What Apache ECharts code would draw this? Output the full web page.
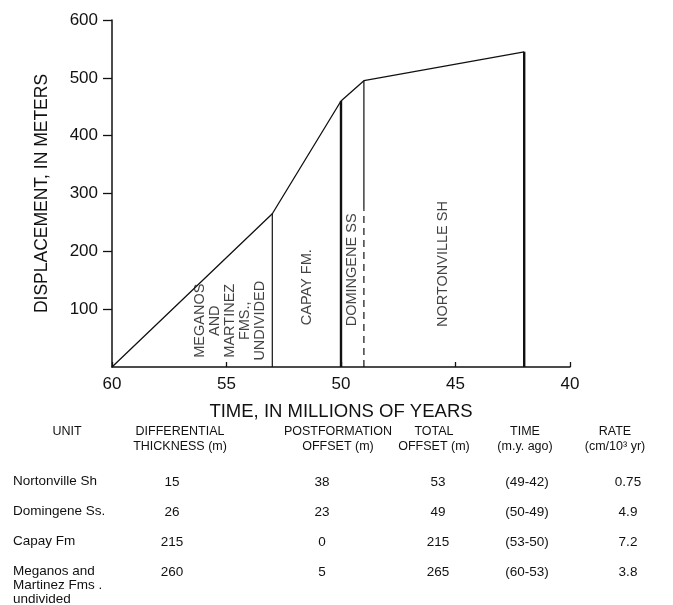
<!DOCTYPE html>
<html>
<head>
<meta charset="utf-8">
<script src="https://cdn.jsdelivr.net/npm/echarts@6/dist/echarts.min.js"></script>
<style>
    html, body { margin: 0; padding: 0; background: #fff; }
    #chart { width: 673px; height: 605px; }
</style>
</head>
<body>
<div id="chart"></div>
<script>
// breakpoints of the displacement curve: age (m.y.) and displacement (m)
const ages = [60, 53, 50, 49, 42];
const displacement = [0, 265, 460, 495, 545];
// the Domingene boundary is drawn solid only down to this height, dashed below
const domingeneSolidTo = 272;

const unitLabels = ['MEGANOS\nAND\nMARTINEZ\nFMS.,\nUNDIVIDED', 'CAPAY FM.', 'DOMINGENE SS', 'NORTONVILLE SH'];
const unitLabelAt = [[54.85, 80], [51.5, 138], [49.5, 168], [45.55, 178]];

const xTicks = [60, 55, 50, 45, 40];
const yTicks = [0, 100, 200, 300, 400, 500, 600];

const tableHeaders = ['UNIT', 'DIFFERENTIAL\nTHICKNESS (m)', 'POSTFORMATION\nOFFSET (m)', 'TOTAL\nOFFSET (m)', 'TIME\n(m.y. ago)', 'RATE\n(cm/10³ yr)'];
const tableUnits = ['Nortonville Sh', 'Domingene Ss.', 'Capay Fm', 'Meganos and\nMartinez Fms .\nundivided'];
const diffThickness = ['15', '26', '215', '260'];
const postOffset = ['38', '23', '0', '5'];
const totalOffset = ['53', '49', '215', '265'];
const timeSpan = ['(49-42)', '(50-49)', '(53-50)', '(60-53)'];
const rate = ['0.75', '4.9', '7.2', '3.8'];

const ink = '#111';
const font = 'Liberation Sans';

function drawChart() {
    const myChart = echarts.init(document.getElementById('chart'));

    const series = [{
        type: 'line',
        data: ages.map(function (a, i) { return [a, displacement[i]]; }),
        symbol: 'none',
        lineStyle: { color: ink, width: 1.3 },
        silent: true
    }];

    // vertical boundaries between units
    const widths = [0, 1.2, 2.4, 1.2, 2.4];
    for (let i = 1; i < ages.length; i++) {
        if (i === 3) {
            series.push({
                type: 'line', symbol: 'none', silent: true,
                data: [[ages[i], domingeneSolidTo], [ages[i], displacement[i]]],
                lineStyle: { color: ink, width: widths[i] }
            });
            series.push({
                type: 'line', symbol: 'none', silent: true,
                data: [[ages[i], 0], [ages[i], domingeneSolidTo]],
                lineStyle: { color: ink, width: widths[i], type: [7, 5] }
            });
        } else {
            series.push({
                type: 'line', symbol: 'none', silent: true,
                data: [[ages[i], 0], [ages[i], displacement[i]]],
                lineStyle: { color: ink, width: widths[i] }
            });
        }
    }

    series.push({
        type: 'scatter',
        symbolSize: 0,
        silent: true,
        data: unitLabelAt.map(function (p, i) { return { value: p, name: unitLabels[i] }; }),
        label: {
            show: true,
            position: 'inside',
            rotate: 90,
            formatter: '{b}',
            color: ink,
            fontFamily: font,
            fontSize: 14.5,
            lineHeight: 15,
            align: 'center'
        }
    });

    // table under the chart
    const graphic = [];
    const headX = [67, 180, 338, 434, 525, 615];
    const valX = [13, 172, 322, 438, 527, 628];
    const rowY = [482, 512, 542, 572];
    tableHeaders.forEach(function (h, c) {
        graphic.push({
            type: 'text', x: headX[c], y: c === 0 ? 432 : 439.5,
            style: { text: h, fill: ink, font: '12.5px ' + font, align: 'center', verticalAlign: 'middle', lineHeight: 15 }
        });
    });
    const cols = [diffThickness, postOffset, totalOffset, timeSpan, rate];
    rowY.forEach(function (y, r) {
        graphic.push({
            type: 'text', x: valX[0], y: y - 8,
            style: { text: tableUnits[r], fill: ink, font: '13.5px ' + font, align: 'left', verticalAlign: 'top', lineHeight: 14 }
        });
        cols.forEach(function (col, c) {
            graphic.push({
                type: 'text', x: valX[c + 1], y: y,
                style: { text: col[r], fill: ink, font: '13.5px ' + font, align: 'center', verticalAlign: 'middle' }
            });
        });
    });

    const option = {
        backgroundColor: '#ffffff',
        animation: false,
        grid: { left: 112, right: 103, top: 20, bottom: 238 },
        xAxis: {
            type: 'value',
            inverse: true,
            min: xTicks[xTicks.length - 1],
            max: xTicks[0],
            interval: xTicks[0] - xTicks[1],
            name: 'TIME, IN MILLIONS OF YEARS',
            nameLocation: 'middle',
            nameGap: 35,
            nameTextStyle: { color: ink, fontFamily: font, fontSize: 18.5 },
            axisLine: { lineStyle: { color: ink, width: 1.5 } },
            axisTick: { inside: true, length: 5, lineStyle: { color: ink, width: 1.3 } },
            axisLabel: { color: ink, fontFamily: font, fontSize: 17, margin: 9 },
            splitLine: { show: false }
        },
        yAxis: {
            type: 'value',
            min: yTicks[0],
            max: yTicks[yTicks.length - 1],
            interval: yTicks[1] - yTicks[0],
            name: 'DISPLACEMENT, IN METERS',
            nameLocation: 'middle',
            nameGap: 61,
            nameTextStyle: { color: ink, fontFamily: font, fontSize: 17.5 },
            axisLine: { show: true, lineStyle: { color: ink, width: 1.5 } },
            axisTick: { show: true, length: 9, lineStyle: { color: ink, width: 1.3 } },
            axisLabel: { color: ink, fontFamily: font, fontSize: 17, margin: 14, showMinLabel: false },
            splitLine: { show: false }
        },
        series: series,
        graphic: graphic
    };
    myChart.setOption(option);
    window.onresize = myChart.resize;
}

drawChart();
</script>
</body>
</html>
